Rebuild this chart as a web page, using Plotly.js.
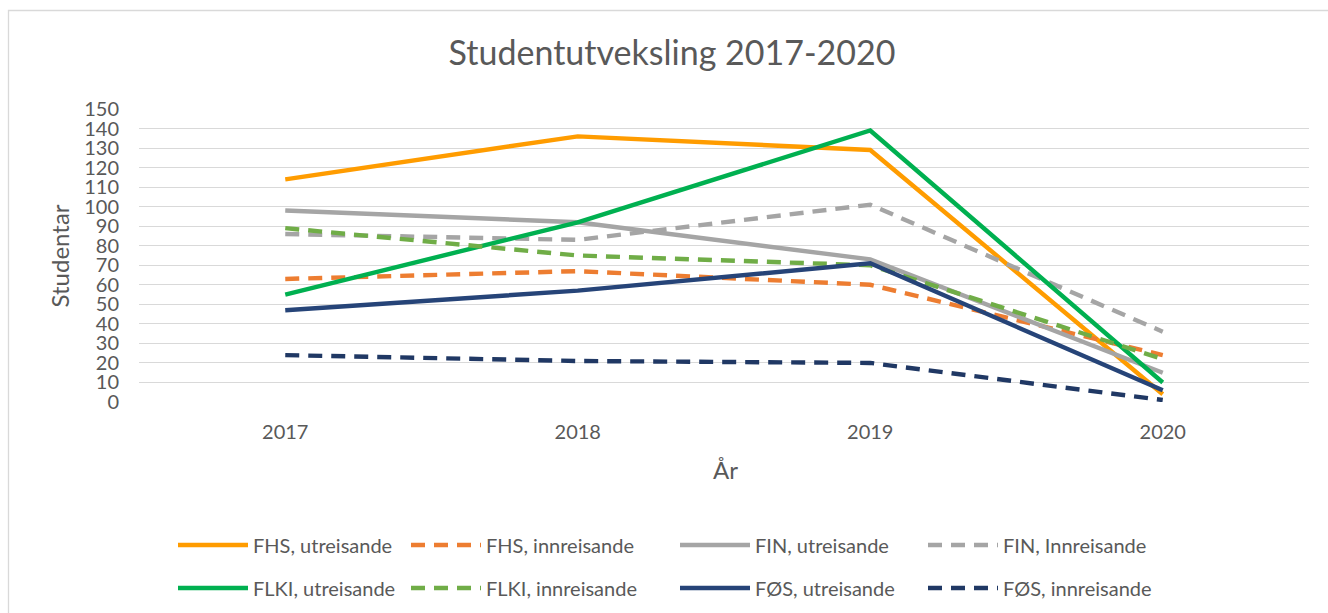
<!DOCTYPE html>
<html>
<head>
<meta charset="utf-8">
<script src="https://cdn.plot.ly/plotly-3.0.1.min.js"></script>
<style>html,body{margin:0;padding:0;background:#fff;}#chart{width:1328px;height:613px;}</style>
</head>
<body>
<div id="chart"></div>
<script>
const years = ["2017", "2018", "2019", "2020"];
const seriesNames = ["FHS, utreisande", "FHS, innreisande", "FIN, utreisande", "FIN, Innreisande",
                     "FLKI, utreisande", "FLKI, innreisande", "FØS, utreisande", "FØS, innreisande"];
const fhsUt   = [114, 136, 129, 4];
const fhsInn  = [63, 67, 60, 24];
const finUt   = [98, 92, 73, 15];
const finInn  = [86, 83, 101, 36];
const flkiUt  = [55, 92, 139, 10];
const flkiInn = [89, 75, 70, 22];
const fosUt   = [47, 57, 71, 6];
const fosInn  = [24, 21, 20, 1];
const yTicks  = [0,10,20,30,40,50,60,70,80,90,100,110,120,130,140,150];

const values = [fhsUt, fhsInn, finUt, finInn, flkiUt, flkiInn, fosUt, fosInn];
const colors = ["#ff9c00", "#ed7d31", "#a5a5a5", "#a5a5a5", "#00b050", "#70ad47", "#264478", "#203864"];
const dashed = [false, true, false, true, false, true, false, true];

const font = "Lato, 'Open Sans', sans-serif";
const txt = "#595959";

// plot geometry (pixels)
const W = 1328, H = 613, L = 139, R = 19, T = 109, B = 211;
const pw = W - L - R, ph = H - T - B;
const px2x = p => (p - L) / pw;
const py2y = p => (H - B - p) / ph;

// legend placement (line start x, row centre y)
const legX = [180, 413, 682, 930, 180, 413, 682, 930];
const legY = [545, 545, 545, 545, 588, 588, 588, 588];

const traces = values.map((v, i) => ({
  x: years, y: v, name: seriesNames[i], type: "scatter", mode: "lines",
  line: {color: colors[i], width: 4.4, dash: dashed[i] ? "14px,9px" : "solid"},
  legend: i === 0 ? "legend" : "legend" + (i + 1),
  hoverinfo: "x+y+name"
}));

const layout = {
  width: W, height: H,
  paper_bgcolor: "#fff", plot_bgcolor: "#fff",
  margin: {l: L, r: R, t: T, b: B, autoexpand: false},
  title: {text: "Studentutveksling 2017-2020", x: 672 / W, xref: "container", xanchor: "center",
          y: 1 - 53 / H, yref: "container", yanchor: "middle",
          font: {family: font, size: 34, color: txt}},
  font: {family: font, color: txt},
  xaxis: {type: "category", range: [-0.5, 3.5], showgrid: false, zeroline: false, automargin: false,
          showline: false, ticks: "", tickfont: {size: 20, color: txt}, ticklabelstandoff: 16},
  yaxis: {range: [0, 150], tickvals: yTicks, ticktext: yTicks.map(String), automargin: false,
          showgrid: true, gridcolor: "#d9d9d9", gridwidth: 1.3, zeroline: false, showline: false,
          ticks: "", tickfont: {size: 20, color: txt}, ticklabelstandoff: 19},
  showlegend: true,
  annotations: [
    {text: "Studentar", xref: "paper", yref: "paper", x: px2x(59), y: py2y(255.5), textangle: -90,
     showarrow: false, xanchor: "center", yanchor: "middle", font: {family: font, size: 24, color: txt}},
    {text: "År", xref: "paper", yref: "paper", x: px2x(725), y: py2y(469),
     showarrow: false, xanchor: "center", yanchor: "middle", font: {family: font, size: 24, color: txt}}
  ],
  shapes: [{type: "rect", xref: "paper", yref: "paper", x0: px2x(8.5), x1: px2x(1340), y0: py2y(640), y1: py2y(10.5),
            line: {color: "#d9d9d9", width: 1.3}, fillcolor: "rgba(0,0,0,0)", layer: "below"}]
};

for (let i = 0; i < 8; i++) {
  const key = i === 0 ? "legend" : "legend" + (i + 1);
  layout[key] = {x: px2x(legX[i] - 7), y: py2y(legY[i]), xanchor: "left", yanchor: "middle",
                 orientation: "h", itemwidth: 70, bgcolor: "rgba(0,0,0,0)",
                 font: {family: font, size: 20, color: txt}};
}

Plotly.newPlot("chart", traces, layout, {displayModeBar: false, responsive: false});
</script>
</body>
</html>
